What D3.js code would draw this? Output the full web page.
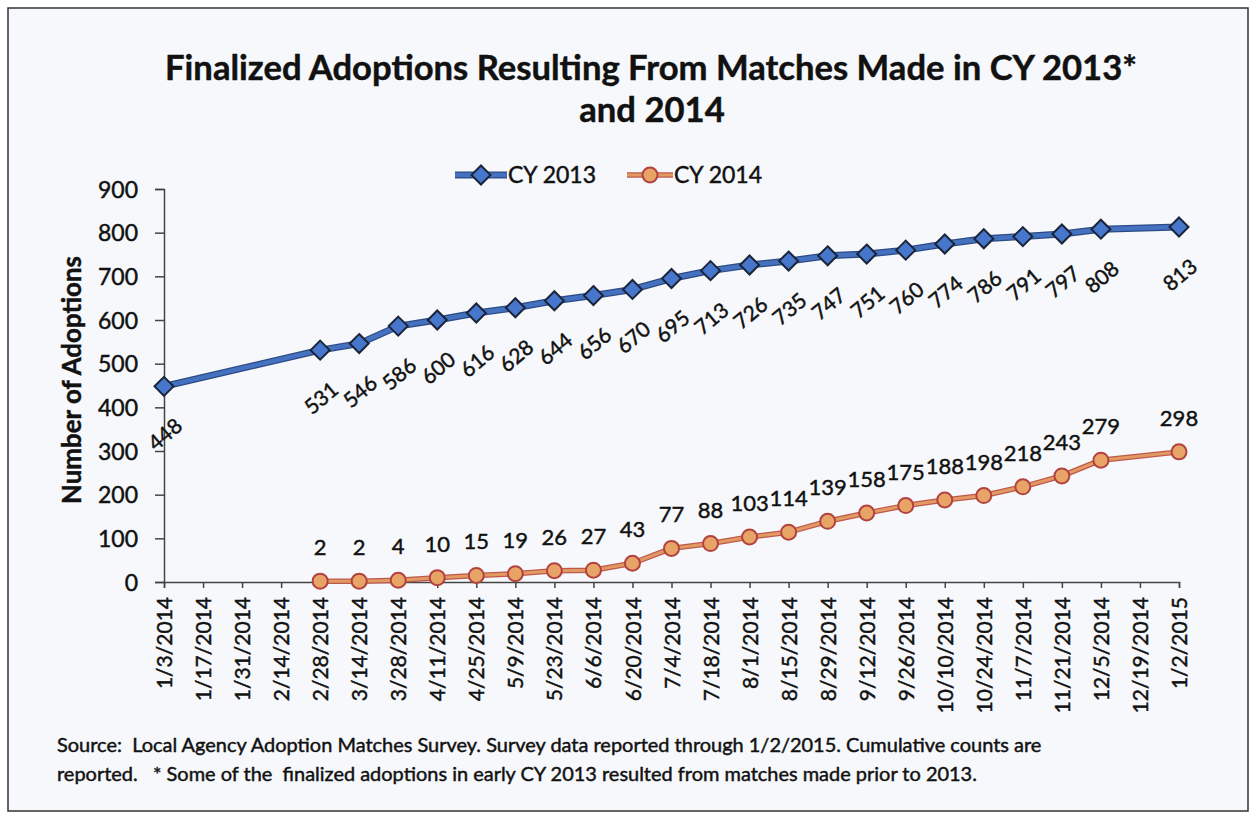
<!DOCTYPE html>
<html><head><meta charset="utf-8">
<script src="https://cdn.jsdelivr.net/npm/d3@7"></script>
<style>
html,body{margin:0;padding:0;background:#ffffff;}
text{font-family:Lato,"Open Sans",sans-serif;fill:#111;}
.heavy{stroke:#111;stroke-width:0.45px;}
</style></head>
<body><svg id="chart" width="1256" height="819"></svg>
<script>
const dateLabels = ["1/3/2014","1/17/2014","1/31/2014","2/14/2014","2/28/2014","3/14/2014","3/28/2014","4/11/2014","4/25/2014","5/9/2014","5/23/2014","6/6/2014","6/20/2014","7/4/2014","7/18/2014","8/1/2014","8/15/2014","8/29/2014","9/12/2014","9/26/2014","10/10/2014","10/24/2014","11/7/2014","11/21/2014","12/5/2014","12/19/2014","1/2/2015"];
const cy2013 = [448,null,null,null,531,546,586,600,616,628,644,656,670,695,713,726,735,747,751,760,774,786,791,797,808,null,813];
const cy2014 = [null,null,null,null,2,2,4,10,15,19,26,27,43,77,88,103,114,139,158,175,188,198,218,243,279,null,298];
const yTicks = [0,100,200,300,400,500,600,700,800,900];
const seriesNames = ["CY 2013","CY 2014"];
const titleLines = ["Finalized Adoptions Resulting From Matches Made in CY 2013*","and 2014"];
const yTitle = "Number of Adoptions";
const noteLines = ["Source:  Local Agency Adoption Matches Survey. Survey data reported through 1/2/2015. Cumulative counts are",
"reported.   * Some of the  finalized adoptions in early CY 2013 resulted from matches made prior to 2013."];

const svg = d3.select("#chart");
const parse = d3.timeParse("%m/%d/%Y");
const dates = dateLabels.map(parse);

svg.append("rect").attr("x",8).attr("y",8).attr("width",1240).attr("height",803)
  .attr("fill","#f6f8fb").attr("stroke","#333").attr("stroke-width",1.5);

const x = d3.scaleTime().domain([dates[0], dates[dates.length-1]]).range([164,1179]);
const y = d3.scaleLinear().domain([0,900]).range([582,189]);

function fitWidth(sel, w){
  const cur = sel.node().getComputedTextLength();
  const fs = parseFloat(sel.attr("font-size"));
  sel.attr("font-size", (fs*w/cur).toFixed(2));
}

// title
const t1 = svg.append("text").attr("x",651).attr("y",80).attr("text-anchor","middle").attr("class","heavy")
  .attr("font-weight","bold").attr("font-size",30).text(titleLines[0]);
fitWidth(t1, 972);
svg.append("text").attr("x",652).attr("y",122).attr("text-anchor","middle").attr("class","heavy")
  .attr("font-weight","bold").attr("font-size",t1.attr("font-size")).text(titleLines[1]);

// y axis
const yAxis = d3.axisLeft(y).tickValues(yTicks).tickSize(9).tickPadding(17);
const gy = svg.append("g").attr("transform","translate(164,0)").call(yAxis);
gy.select(".domain").attr("stroke","#444").attr("stroke-width",1.5);
gy.selectAll(".tick line").attr("stroke","#444").attr("stroke-width",1.5);
gy.selectAll(".tick text").attr("font-size",23).attr("font-family","Lato").attr("fill","#111")
  .attr("class","heavy").attr("dy","0.36em");

// x axis
const xAxis = d3.axisBottom(x).tickValues(dates).tickSize(6).tickFormat((d,i)=>dateLabels[i]);
const gx = svg.append("g").attr("transform","translate(0,582)").call(xAxis);
gx.select(".domain").attr("stroke","#444").attr("stroke-width",1.5);
gx.selectAll(".tick line").attr("stroke","#444").attr("stroke-width",1.5);
gx.selectAll(".tick text").attr("font-size",21).attr("font-family","Lato").attr("fill","#111").attr("class","heavy")
  .attr("text-anchor","end").attr("transform","rotate(-90)").attr("x",-15).attr("y",0).attr("dy","0.36em");

// y title
const yt = svg.append("text").attr("transform","translate(81,380) rotate(-90)").attr("text-anchor","middle")
  .attr("font-weight","bold").attr("font-size",20).attr("font-family","'Liberation Sans',Arial,sans-serif")
  .attr("class","heavy").text(yTitle);
fitWidth(yt, 248);

// series
const pts13 = dates.map((d,i)=>({d, v:cy2013[i]})).filter(p=>p.v!==null);
const pts14 = dates.map((d,i)=>({d, v:cy2014[i]})).filter(p=>p.v!==null);
const line = d3.line().x(p=>x(p.d)).y(p=>y(p.v));

svg.append("path").attr("d",line(pts13)).attr("fill","none").attr("stroke","#2c4a85").attr("stroke-width",7).attr("stroke-linejoin","round");
svg.append("path").attr("d",line(pts13)).attr("fill","none").attr("stroke","#4471c0").attr("stroke-width",4.5).attr("stroke-linejoin","round");
svg.append("path").attr("d",line(pts14)).attr("fill","none").attr("stroke","#c0584d").attr("stroke-width",5.5).attr("stroke-linejoin","round");
svg.append("path").attr("d",line(pts14)).attr("fill","none").attr("stroke","#e09a62").attr("stroke-width",3).attr("stroke-linejoin","round");

function diamondPath(s){ return `M0,${-s}L${s},0L0,${s}L${-s},0Z`; }
svg.append("g").selectAll("path").data(pts13).join("path")
  .attr("d",diamondPath(9.5)).attr("transform",p=>`translate(${x(p.d)},${y(p.v)})`)
  .attr("fill","#4677cc").attr("stroke","#1b2438").attr("stroke-width",2);
svg.append("g").selectAll("circle").data(pts14).join("circle")
  .attr("cx",p=>x(p.d)).attr("cy",p=>y(p.v)).attr("r",7.5)
  .attr("fill","#e8a466").attr("stroke","#b2423f").attr("stroke-width",2);

// labels
svg.append("g").selectAll("text").data(pts13).join("text")
  .attr("transform",p=>`translate(${x(p.d)+1},${y(p.v)+48}) rotate(-40)`).attr("class","heavy")
  .attr("text-anchor","middle").attr("dy","0.35em").attr("font-size",21).text(p=>p.v);
svg.append("g").selectAll("text").data(pts14).join("text")
  .attr("x",p=>x(p.d)).attr("y",p=>y(p.v)-26).attr("text-anchor","middle").attr("class","heavy")
  .attr("font-size",22).text(p=>p.v);

// legend
const lg = svg.append("g");
lg.append("line").attr("x1",455).attr("x2",507).attr("y1",175).attr("y2",175).attr("stroke","#2c4a85").attr("stroke-width",7);
lg.append("line").attr("x1",455).attr("x2",507).attr("y1",175).attr("y2",175).attr("stroke","#4471c0").attr("stroke-width",4.5);
lg.append("path").attr("d",diamondPath(9.5)).attr("transform","translate(481,175)").attr("fill","#4677cc").attr("stroke","#1b2438").attr("stroke-width",2);
lg.append("text").attr("x",508).attr("y",175).attr("dy","0.36em").attr("font-size",23).attr("class","heavy").text(seriesNames[0]);
lg.append("line").attr("x1",627).attr("x2",673).attr("y1",175).attr("y2",175).attr("stroke","#c0584d").attr("stroke-width",5.5);
lg.append("line").attr("x1",627).attr("x2",673).attr("y1",175).attr("y2",175).attr("stroke","#e09a62").attr("stroke-width",3);
lg.append("circle").attr("cx",650).attr("cy",175).attr("r",7.5).attr("fill","#e8a466").attr("stroke","#b2423f").attr("stroke-width",2);
lg.append("text").attr("x",674).attr("y",175).attr("dy","0.36em").attr("font-size",23).attr("class","heavy").text(seriesNames[1]);

// footnote
const n1 = svg.append("text").attr("x",57).attr("y",752).attr("font-size",18).attr("class","heavy").style("white-space","pre").text(noteLines[0]);
fitWidth(n1, 985);
svg.append("text").attr("x",57).attr("y",781).attr("font-size",n1.attr("font-size")).attr("class","heavy").style("white-space","pre").text(noteLines[1]);
</script></body></html>
